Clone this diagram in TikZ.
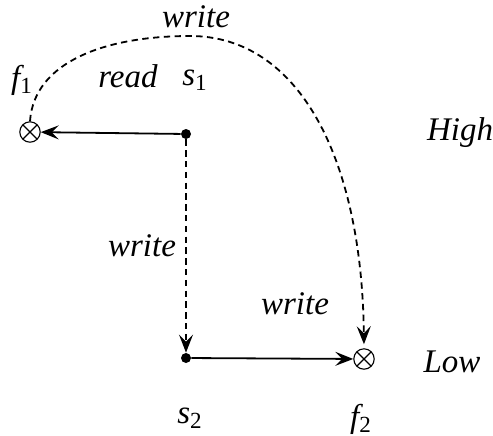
\documentclass[tikz,border=0pt]{standalone}
\usepackage{fontspec}
\setmainfont{Liberation Serif}
\newfontfamily\labelfont{Liberation Serif}
\usetikzlibrary{arrows.meta,positioning}

\newcommand{\subvar}[2]{\textit{#1}\textsubscript{\upshape #2}}

\begin{document}
\begin{tikzpicture}[
    x=0.5pt, y=-0.5pt,
    state/.style={circle, fill=black, inner sep=0pt, minimum size=5pt},
    sink/.style={circle, draw, inner sep=0pt, minimum size=10.2pt, line width=0.55pt,
      path picture={
        \draw[line width=0.55pt] (path picture bounding box.north west) -- (path picture bounding box.south east);
        \draw[line width=0.55pt] (path picture bounding box.north east) -- (path picture bounding box.south west);
      }},
    lbl/.style={inner sep=0pt, font=\labelfont\fontsize{16.5}{19}\selectfont\itshape},
    flow/.style={line width=0.9pt, -{Stealth[length=9pt, width=7pt, inset=3.5pt]}},
    wflow/.style={flow, dash pattern=on 3.2pt off 2.2pt}
  ]
    \useasboundingbox (0,0) rectangle (493,435);

    % states and files
    \node[state] (s1) at (186,134) {};
    \node[state] (s2) at (186,358) {};
    \node[sink]  (f1) at (30,132) {};
    \node[sink]  (f2) at (364,359) {};

    % names
    \node[lbl] (nf1) at (22,80) {\subvar{f}{1}};
    \node[lbl] (ns1) at (195,80) {\subvar{s}{1}};
    \node[lbl] (ns2) at (190,418) {\subvar{s}{2}};
    \node[lbl] (nf2) at (361,419) {\subvar{f}{2}};
    \node[lbl] (high) at (460,133) {High};
    \node[lbl] (low) at (452,362) {Low};

    % operations
    \draw[flow] (s1) -- (f1);
    \draw[flow] (s2) -- (f2);
    \draw[wflow] (s1) -- (s2);
    \draw[wflow, shorten >=2pt] (f1.north) .. controls (34,62) and (105,36) .. (190,36)
      .. controls (300,36) and (362,160) .. (f2.north);

    \node[lbl] (rd) at (128,76) {read};
    \node[lbl] (wtop) at (196,17) {write};
    \node[lbl] (wmid) at (142,246) {write};
    \node[lbl] (wlow) at (295,304) {write};
\end{tikzpicture}
\end{document}
